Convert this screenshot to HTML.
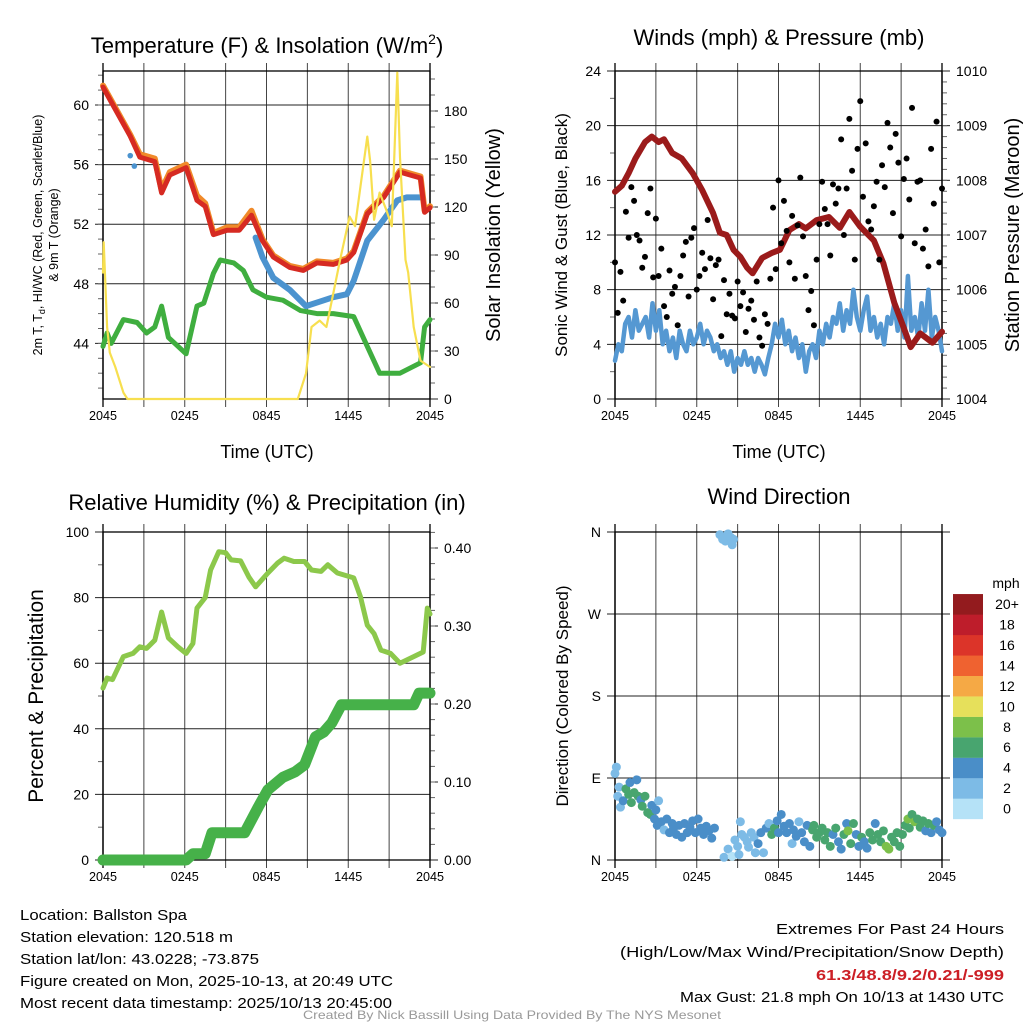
<!DOCTYPE html>
<html><head><meta charset="utf-8"><style>
html,body{margin:0;padding:0;background:#fff;}
svg{display:block;font-family:"Liberation Sans",Arial,sans-serif;}
</style></head><body>
<svg id="fig" width="1024" height="1024" viewBox="0 0 1024 1024" xmlns="http://www.w3.org/2000/svg">
<rect x="0" y="0" width="1024" height="1024" fill="#fff"/>
<text x="267" y="53" font-size="22" text-anchor="middle">Temperature (F) &amp; Insolation (W/m<tspan font-size="14" dy="-9">2</tspan><tspan dy="9">)</tspan></text>
<text x="779" y="45" font-size="22" text-anchor="middle">Winds (mph) &amp; Pressure (mb)</text>
<text x="267" y="510" font-size="22" text-anchor="middle">Relative Humidity (%) &amp; Precipitation (in)</text>
<text x="779" y="504" font-size="22" text-anchor="middle">Wind Direction</text>
<text transform="translate(42,235) rotate(-90)" font-size="12.5" text-anchor="middle">2m T, T<tspan font-size="9" dy="3">d</tspan><tspan dy="-3">, HI/WC (Red, Green, Scarlet/Blue)</tspan></text>
<text transform="translate(58,235) rotate(-90)" font-size="12.5" text-anchor="middle">&amp; 9m T (Orange)</text>
<text transform="translate(500,235) rotate(-90)" font-size="20" text-anchor="middle">Solar Insolation (Yellow)</text>
<text x="267" y="458" font-size="18" text-anchor="middle">Time (UTC)</text>
<text transform="translate(567,235) rotate(-90)" font-size="17" text-anchor="middle">Sonic Wind &amp; Gust (Blue, Black)</text>
<text transform="translate(1019,235) rotate(-90)" font-size="20" text-anchor="middle">Station Pressure (Maroon)</text>
<text x="779" y="458" font-size="18" text-anchor="middle">Time (UTC)</text>
<text transform="translate(43,696) rotate(-90)" font-size="21" text-anchor="middle">Percent &amp; Precipitation</text>
<text transform="translate(568,696) rotate(-90)" font-size="17" text-anchor="middle">Direction (Colored By Speed)</text>
<text x="1006" y="588" font-size="14" text-anchor="middle">mph</text>
<g font-size="15">
<text x="20" y="920" textLength="167" lengthAdjust="spacingAndGlyphs">Location: Ballston Spa</text>
<text x="20" y="942" textLength="213" lengthAdjust="spacingAndGlyphs">Station elevation: 120.518 m</text>
<text x="20" y="964" textLength="239" lengthAdjust="spacingAndGlyphs">Station lat/lon: 43.0228; -73.875</text>
<text x="20" y="986" textLength="373" lengthAdjust="spacingAndGlyphs">Figure created on Mon, 2025-10-13, at 20:49 UTC</text>
<text x="20" y="1008" textLength="372" lengthAdjust="spacingAndGlyphs">Most recent data timestamp: 2025/10/13 20:45:00</text>
</g>
<g font-size="15" text-anchor="end">
<text x="1004" y="934" textLength="228" lengthAdjust="spacingAndGlyphs">Extremes For Past 24 Hours</text>
<text x="1004" y="957" textLength="384" lengthAdjust="spacingAndGlyphs">(High/Low/Max Wind/Precipitation/Snow Depth)</text>
<text x="1004" y="980" textLength="188" lengthAdjust="spacingAndGlyphs" font-weight="bold" fill="#cc1f26">61.3/48.8/9.2/0.21/-999</text>
<text x="1004" y="1002" textLength="324" lengthAdjust="spacingAndGlyphs">Max Gust: 21.8 mph On 10/13 at 1430 UTC</text>
</g>
<text x="512" y="1019" font-size="12" fill="#999" text-anchor="middle" textLength="418" lengthAdjust="spacingAndGlyphs">Created By Nick Bassill Using Data Provided By The NYS Mesonet</text>
</svg>
<script>
// ---------- data ----------
const timeTickHours = [0, 6, 12, 18, 24];
const timeTickLabels = ["2045", "0245", "0845", "1445", "2045"];
const tempHours = [0,2.0,2.7,3.8,4.3,4.9,6.1,6.9,7.5,8.1,9.1,10,10.9,11.7,12.5,13.7,14.7,15.7,16.9,17.9,18.4,19.4,20.6,21.8,23.3,23.6,24];
const tempVals  = [61.2,57.9,56.5,56.2,54.1,55.3,55.8,53.6,53.2,51.3,51.6,51.6,52.6,50.9,49.8,49.1,48.9,49.4,49.3,49.6,50.1,52.7,53.8,55.5,55.1,52.8,53.1];
const temp9mVals = [61.3,58.0,56.7,56.4,54.3,55.5,56.0,53.9,53.4,51.4,51.8,51.8,52.9,51.0,49.9,49.2,49.0,49.5,49.4,49.7,50.2,52.8,53.9,55.6,55.2,52.9,53.2];
const dewHours = [0,0.3,0.6,1.5,2.5,3.2,3.8,4.3,4.8,6.1,6.9,7.4,8.1,8.6,9.6,10.3,11,12,13.2,14.5,15.7,16.9,18.4,19.4,20.3,21.8,23.3,23.6,24];
const dewVals  = [43.8,44.7,44.0,45.6,45.4,44.7,45.1,46.5,44.4,43.3,46.5,46.7,48.7,49.6,49.4,48.9,47.6,47.1,46.9,46.2,46.0,46.0,45.8,43.8,42.0,42.0,42.7,45.1,45.6];
const hiwcHours = [11.2,11.7,12.5,13.7,14.9,15.9,16.9,17.9,18.4,19.4,20.6,21.6,22.3,23.3];
const hiwcVals  = [51.1,49.8,48.4,47.6,46.5,46.8,47.1,47.3,48.2,50.9,52.3,53.6,53.8,53.8];
const hiwcEarlyHours = [2.0, 2.3];
const hiwcEarlyVals = [56.6, 55.9];
const solarHours = [0,0.05,0.3,0.5,0.9,1.5,1.8,14.3,14.9,15.3,15.9,16.4,16.9,17.4,18.1,18.5,18.9,19.4,19.6,19.9,20.3,20.8,21.2,21.6,21.8,22.2,22.4,22.8,23.3,24];
const solarVals  = [79,98,45,29,20,4,0,0,16,45,49,45,66,87,114,108,133,164,149,112,129,118,108,204,151,87,79,45,24,20];
const presHours = [0,0.5,1.0,1.5,2.2,2.7,3.2,3.6,4.2,4.9,5.7,6.4,7.2,7.7,8.2,8.7,9.2,9.7,10.1,10.8,11.5,12.1,12.8,13.5,14.0,14.8,15.7,16.5,17.2,18.0,19.0,19.7,20.5,21.2,21.7,22.4,23.3,24];
const presVals  = [1007.79,1007.9,1008.13,1008.4,1008.7,1008.8,1008.7,1008.75,1008.5,1008.4,1008.13,1007.82,1007.4,1007.04,1007.0,1006.73,1006.6,1006.4,1006.3,1006.58,1006.67,1006.73,1007.09,1007.2,1007.12,1007.27,1007.33,1007.13,1007.42,1007.15,1006.9,1006.48,1005.76,1005.3,1004.95,1005.2,1005.03,1005.23];
const windVals = [2.8,4,3.5,5.5,6,4.5,6.5,5,5.5,6,4.5,7,5,6.5,4,5,3.5,4.5,3,5,4,3.5,5,4,4.5,5.5,4,5,4.5,3.5,4,3,3.5,2.5,3.5,2,3,2.5,3.5,2.5,3,2,3,2.5,1.8,3,4,5.5,4.5,5.8,4,5,3.5,4.5,3,4,2,3.5,4,3,5,4,5.5,4.5,6,5.5,7,5,6.5,5.5,8,6,5,6.5,7.5,5,6,4.5,5.5,4,6,5.5,7,5,6.5,4.5,9,5,6,4.5,7,5,8,4.5,6,5,3.5];
const gustVals = [10,6.3,9.3,7.2,13.7,11.8,15.5,14.5,12,11.6,9.6,10.4,13.6,15.4,8.9,13.2,
 9,11,6.8,6,9.4,7.7,8.2,5.4,9,10.5,11.5,7.5,11.8,12.5,8,
 9,10.7,9.5,13.1,10.3,7.3,9.8,10.2,4.6,8.7,6.2,7.7,6.1,5.9,8.6,
 6.8,7.8,4.9,6.6,7.2,5.8,8.6,4.5,3.9,6.2,5.5,8.8,14,9.5,16,
 11.4,14.5,12.3,10,13.4,8.8,12.7,16.2,11.9,9,6.5,7.9,5.4,10.2,12.8,
 15.9,13.9,12.8,10.5,15.7,14.3,15.4,19,12,15.4,20.5,16.7,10.2,18.3,21.8,
 14.8,18.7,13,12.4,14.1,15.9,10.2,17.1,15.5,20.2,18.4,13.6,19.4,17.3,11.9,
 16.1,17.6,14.6,21.3,11.4,15.9,16,11,12.4,9.7,18.3,14.3,20.3,10,15.4];
const rhHours = [0,0.3,0.7,1.5,2.2,2.7,3.2,3.8,4.3,4.8,5.5,6.1,6.6,6.9,7.5,7.9,8.5,9.0,9.4,10.1,10.7,11.2,12.1,12.8,13.3,14,14.8,15.3,16,16.5,17.2,18.4,18.9,19.4,19.9,20.4,21.1,21.8,22.8,23.5,23.8,24];
const rhVals  = [52.4,55.5,55,62,63,65,64.5,67,75.6,67.7,65,63,66,76.8,80,88.4,94,93.7,91.5,91.2,86.3,83.3,87.5,90.5,92,91,91,88.4,88,90,87.5,86,80.2,71.6,69,64,63,60,62,63.4,76.8,75];
const precipHours = [0,6.1,6.6,7.5,8.0,10.4,11.4,12.1,13.2,14.1,14.8,15.6,16.2,16.8,17.5,22.8,23.2,24];
const precipVals  = [0,0,0.008,0.008,0.035,0.035,0.068,0.09,0.106,0.113,0.122,0.158,0.164,0.176,0.199,0.199,0.214,0.214];
const dirHours = [0,0.1,0.2,0.3,0.4,0.6,0.8,1.0,1.1,1.2,1.4,1.6,1.7,1.9,2.0,2.2,2.4,2.6,2.7,2.9,3.0,3.1,3.2,3.4,3.6,3.8,4.0,4.2,4.3,4.5,4.7,4.9,5.1,5.3,5.5,5.7,5.9,6.1,6.3,6.5,6.7,6.9,7.1,7.3,
 7.7,7.9,8.1,8.3,8.5,8.6,8.7,
 8.0,8.3,8.6,8.8,9.0,9.1,9.2,9.3,9.5,9.7,9.8,10.0,10.2,10.3,10.5,10.7,10.9,11.1,11.3,11.5,11.7,11.9,12.0,12.2,12.4,12.6,12.8,13.0,13.1,13.3,13.5,13.7,13.9,14.1,14.3,14.5,14.6,14.8,15.0,15.2,15.4,15.6,15.8,16.0,16.2,16.4,16.6,16.8,17.0,17.1,17.3,17.5,17.7,17.9,18.1,18.3,18.5,18.7,18.9,19.1,19.3,19.5,19.7,19.9,20.1,20.3,20.5,20.7,20.9,21.1,21.3,21.5,21.6,21.8,22.0,22.2,22.4,22.6,22.8,23.0,23.2,23.4,23.6,23.8,24.0];
const dirVals = [95,102,70,80,58,65,78,72,85,63,74,88,70,66,59,70,52,50,60,45,55,38,65,42,33,45,30,40,35,28,38,25,40,30,36,43,30,45,35,28,37,32,24,35,
 357,352,350,358,354,346,352,
 3,12,4,22,15,6,42,28,25,20,14,30,25,8,18,30,8,35,40,28,35,43,30,50,37,30,40,18,33,26,42,30,20,38,15,33,38,25,30,35,22,30,15,28,35,20,12,28,40,32,18,40,28,15,25,20,13,30,22,40,28,20,32,15,12,25,20,30,15,28,38,45,35,50,42,45,36,43,32,40,30,38,42,33,30];
const dirSpeeds = [3,3,3,3,3,4,6,7,4,6,6,4,6,5,6,6,6,7,4,4,4,4,3,4,3,4,4,4,4,4,4,4,4,4,4,4,4,4,4,4,4,4,4,4,
 2,3,2,2,2,2,2,
 2,2,1,2,2,3,3,2,2,2,2,3,2,2,4,4,2,4,3,6,6,4,4,4,4,4,4,2,4,4,3,4,4,4,4,6,6,6,6,6,6,6,6,4,6,4,4,6,4,8,6,6,4,4,6,4,4,6,6,4,6,6,6,8,8,6,6,6,6,6,6,8,6,6,8,6,6,6,4,6,4,6,4,4,4];
const speedBins = ["0","2","4","6","8","10","12","14","16","18","20+"];
const speedColors = ["#b5e2f7","#7dbbe6","#4a8ec8","#48a56f","#7cc04a","#e6e05b","#f5a945","#ef6230","#dc3429","#be1d2b","#931b1e"];

// ---------- helpers ----------
const NS = "http://www.w3.org/2000/svg";
const svg = document.getElementById("fig");
function el(tag, attrs, parent) {
  const e = document.createElementNS(NS, tag);
  for (const k in attrs) e.setAttribute(k, attrs[k]);
  (parent || svg).appendChild(e);
  return e;
}
function xAxis(x0, x1) { return h => x0 + h * (x1 - x0) / 24; }
function linAxis(v0, y0, v1, y1) { return v => y0 + (v - v0) * (y1 - y0) / (v1 - v0); }
function pathFrom(xs, ys, fx, fy) {
  return xs.map((h, i) => (i ? "L" : "M") + fx(h).toFixed(1) + "," + fy(ys[i]).toFixed(1)).join(" ");
}

function frame(name, x0, x1, yT, yB, leftTicks, leftLabels, leftMinor, fyL, rightTicks, rightLabels, rightMinor, fyR) {
  const g = el("g", {});
  
  
  const fx = xAxis(x0, x1);
  for (let h = 0; h <= 24; h += 3) {
    const x = fx(h);
    const gl = el("line", {x1: x, x2: x, y1: yT - 8, y2: yB + 8, stroke: (h === 0 || h === 24) ? "#000" : "#444", "stroke-width": (h === 0 || h === 24) ? 1.3 : 1}, g);
    
    
  }
  timeTickHours.forEach((h, i) => {
    const t = el("text", {x: fx(h), y: yB + 21, "font-size": 13, "text-anchor": "middle", textLength: 28, lengthAdjust: "spacingAndGlyphs"}, g);
    t.textContent = timeTickLabels[i];
    
    
  });
  leftTicks.forEach((v, i) => {
    const y = fyL(v);
    const ln = el("line", {x1: x0 - 8, x2: x1 + (rightTicks ? 0 : 8), y1: y, y2: y, stroke: "#222", "stroke-width": 1}, g);
    
    
    const t = el("text", {x: x0 - 14, y: y + 5, "font-size": 14, "text-anchor": "end"}, g);
    t.textContent = leftLabels[i];
    
    
  });
  leftMinor.forEach(v => {
    const y = fyL(v);
    el("line", {x1: x0 - 5, x2: x0, y1: y, y2: y, stroke: "#666", "stroke-width": 1}, g);
  });
  if (rightTicks) {
    rightTicks.forEach((v, i) => {
      const y = fyR(v);
      el("line", {x1: x1, x2: x1 + 8, y1: y, y2: y, stroke: "#222", "stroke-width": 1}, g);
      const t = el("text", {x: x1 + 14, y: y + 5, "font-size": 14}, g);
      t.textContent = rightLabels[i];
      
      
    });
    rightMinor.forEach(v => {
      const y = fyR(v);
      el("line", {x1: x1, x2: x1 + 5, y1: y, y2: y, stroke: "#666", "stroke-width": 1}, g);
    });
  }
  const box = el("rect", {x: x0, y: yT, width: x1 - x0, height: yB - yT, fill: "none", stroke: "#000", "stroke-width": 1.3}, g);
  
  
  return fx;
}
function range(a, b, s) { const r = []; for (let v = a; v <= b + 1e-9; v += s) r.push(+v.toFixed(4)); return r; }
function line(d, color, w, name) {
  const p = el("path", {d: d, fill: "none", stroke: color, "stroke-width": w, "stroke-linejoin": "round", "stroke-linecap": "round"});
  
  
  return p;
}

// ---------- Panel 1: temperature ----------
const fyT = linAxis(60, 105, 44, 343.4);
const fyS = linAxis(0, 399, 180, 111);
const fx1 = frame("temperature", 103, 430, 71, 399,
  [44,48,52,56,60], ["44","48","52","56","60"], range(41, 62, 1), fyT,
  [0,30,60,90,120,150,180], ["0","30","60","90","120","150","180"], range(10, 200, 10), fyS);
line(pathFrom(dewHours, dewVals, fx1, fyT), "#3fae3f", 5, "dewpoint-line");
line(pathFrom(hiwcHours, hiwcVals, fx1, fyT), "#4b93cf", 6, "heat-index-wind-chill-line");
hiwcEarlyHours.forEach((h, i) => {
  const c = el("circle", {cx: fx1(h), cy: fyT(hiwcEarlyVals[i]), r: 2.8, fill: "#4b93cf"});
  
  
});
line(pathFrom(tempHours, temp9mVals, fx1, fyT), "#f08a2a", 6, "temperature-9m-line");
line(pathFrom(tempHours, tempVals, fx1, fyT), "#d62a22", 5, "temperature-2m-line");
line(pathFrom(solarHours, solarVals, fx1, fyS), "#f7df4f", 2.2, "solar-insolation-line");

// ---------- Panel 2: winds ----------
const fyW = linAxis(0, 399, 24, 71);
const fyP = linAxis(1004, 399, 1010, 71);
const fx2 = frame("wind", 615, 942, 71, 399,
  [0,4,8,12,16,20,24], ["0","4","8","12","16","20","24"], range(2, 22, 4), fyW,
  [1004,1005,1006,1007,1008,1009,1010], ["1004","1005","1006","1007","1008","1009","1010"], range(1004.2, 1009.8, 0.2), fyP);
const windHours = windVals.map((v, i) => i * 24 / (windVals.length - 1));
line(pathFrom(windHours, windVals, fx2, fyW), "#5598d2", 4.5, "sonic-wind-line");
line(pathFrom(presHours, presVals, fx2, fyP), "#9b1b1b", 6, "pressure-line");
gustVals.forEach((v, i) => {
  const c = el("circle", {cx: fx2(i * 24 / (gustVals.length - 1)), cy: fyW(v), r: 3, fill: "#000"});
  
  
});

// ---------- Panel 3: RH & precip ----------
const fyR = linAxis(0, 860, 100, 532);
const fyPr = linAxis(0, 860, 0.4, 548);
const fx3 = frame("humidity", 103, 430, 532, 860,
  [0,20,40,60,80,100], ["0","20","40","60","80","100"], range(10, 90, 20), fyR,
  [0,0.1,0.2,0.3,0.4], ["0.00","0.10","0.20","0.30","0.40"], range(0.02, 0.42, 0.02), fyPr);
line(pathFrom(rhHours, rhVals, fx3, fyR), "#8cc84b", 5, "relative-humidity-line");
line(pathFrom(precipHours, precipVals, fx3, fyPr), "#46b149", 11, "precipitation-line");

// ---------- Panel 4: direction ----------
const fyD = linAxis(0, 860, 360, 532);
const fx4 = frame("direction", 615, 942, 532, 860,
  [0,90,180,270,360], ["N","E","S","W","N"], [], fyD, null, null, null, null);
function binIndex(s) { return Math.min(10, Math.max(0, Math.floor(s / 2))); }
dirVals.forEach((d, i) => {
  const c = el("circle", {cx: fx4(dirHours[i]), cy: fyD(d), r: 4.5, fill: speedColors[binIndex(dirSpeeds[i])]});
  
  
});
speedBins.forEach((lab, i) => {
  const y = 819 - (i + 1) * 20.45;
  const r = el("rect", {x: 953, y: y, width: 30, height: 20.6, fill: speedColors[i]});
  
  
  const t = el("text", {x: 1007, y: y + 15, "font-size": 14, "text-anchor": "middle"});
  t.textContent = lab;
  
  
});
</script>
</body></html>
